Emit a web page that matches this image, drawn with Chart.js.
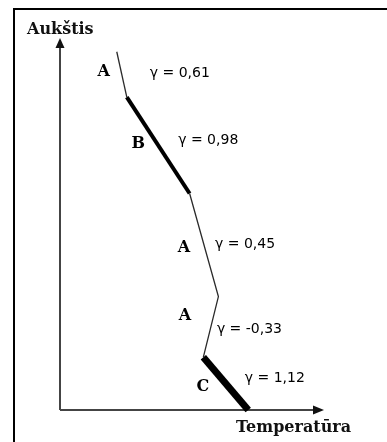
<!DOCTYPE html>
<html lang="lt">
<head>
    <meta charset="UTF-8">
    <title>Temperatūros profilis</title>
    <style>
        html, body { margin: 0; padding: 0; background: #fff; }
        canvas { display: block; }
    </style>
</head>
<body>
    <canvas id="profilis" width="387" height="442"></canvas>
    <script src="https://cdn.jsdelivr.net/npm/chart.js@4"></script>
    <script>
        // Profilio lūžio taškai (santykiniai vienetai)
        const temperatura = [21.5, 25.3, 49.1, 60.0, 54.3, 71.3];
        const aukstis = [96.3, 84.1, 58.2, 30.5, 14.2, 0];
        // Sluoksniai tarp taškų ir jų gradientai
        const sluoksniai = ['A', 'B', 'A', 'A', 'C'];
        const gradientai = [0.61, 0.98, 0.45, -0.33, 1.12];

        // linijos storis pagal sluoksnio tipą
        const storis = { A: 1.3, B: 4, C: 7 };
        const spalva = { A: '#2a2a2a', B: '#000', C: '#000' };

        // užrašų poslinkiai nuo atkarpos vidurio
        const raidesPoslinkis = [[-18, -3], [-20, -1], [-20, 3], [-26, -11], [-23, 3]];
        const gamaPoslinkis = [[28, -1], [20, -5], [11, -1], [6, 3], [19, -5]];

        const taskai = temperatura.map((t, i) => ({ x: t, y: aukstis[i] }));

        const remelis = {
            id: 'remelis',
            beforeDraw(chart) {
                const c = chart.ctx;
                c.save();
                c.fillStyle = '#fff';
                c.fillRect(0, 0, chart.width, chart.height);
                c.fillStyle = '#000';
                c.fillRect(13, 8, chart.width - 13, 2);
                c.fillRect(13, 8, 2, chart.height - 8);
                c.restore();
            }
        };

        const asys = {
            id: 'asys',
            beforeDatasetsDraw(chart) {
                const c = chart.ctx;
                const a = chart.chartArea;
                c.save();
                c.strokeStyle = '#444';
                c.fillStyle = '#111';
                c.lineWidth = 2;
                c.beginPath();
                c.moveTo(a.left, a.bottom);
                c.lineTo(a.left, a.top + 9);
                c.moveTo(a.left, a.bottom);
                c.lineTo(a.right - 10, a.bottom);
                c.stroke();
                // rodyklės
                c.beginPath();
                c.moveTo(a.left, a.top);
                c.lineTo(a.left - 4.5, a.top + 10);
                c.lineTo(a.left + 4.5, a.top + 10);
                c.closePath();
                c.fill();
                c.beginPath();
                c.moveTo(a.right, a.bottom);
                c.lineTo(a.right - 11, a.bottom - 4.5);
                c.lineTo(a.right - 11, a.bottom + 4.5);
                c.closePath();
                c.fill();

                c.font = 'bold 16px "DejaVu Serif"';
                c.textAlign = 'left';
                c.textBaseline = 'alphabetic';
                c.fillText('Aukštis', 27, 34);
                c.fillText('Temperatūra', 236, 432);
                c.restore();
            }
        };

        const uzrasai = {
            id: 'uzrasai',
            afterDatasetsDraw(chart) {
                const c = chart.ctx;
                const sx = chart.scales.x, sy = chart.scales.y;
                c.save();
                c.fillStyle = '#000';
                sluoksniai.forEach((s, i) => {
                    const mx = (sx.getPixelForValue(temperatura[i]) + sx.getPixelForValue(temperatura[i + 1])) / 2;
                    const my = (sy.getPixelForValue(aukstis[i]) + sy.getPixelForValue(aukstis[i + 1])) / 2;
                    c.font = 'bold 16px "DejaVu Serif"';
                    c.textAlign = 'center';
                    c.textBaseline = 'middle';
                    c.fillText(s, mx + raidesPoslinkis[i][0], my + raidesPoslinkis[i][1]);
                    c.font = '14px "DejaVu Sans"';
                    c.textAlign = 'left';
                    c.fillText('γ = ' + gradientai[i].toFixed(2).replace('.', ','),
                        mx + gamaPoslinkis[i][0], my + gamaPoslinkis[i][1]);
                });
                c.restore();
            }
        };

        new Chart(document.getElementById('profilis'), {
            type: 'line',
            data: {
                datasets: [{
                    data: taskai,
                    borderColor: '#000',
                    borderWidth: 1.3,
                    pointRadius: 0,
                    clip: false,
                    borderCapStyle: 'butt',
                    segment: {
                        borderWidth: ctx => storis[sluoksniai[ctx.p0DataIndex]],
                        borderColor: ctx => spalva[sluoksniai[ctx.p0DataIndex]]
                    }
                }]
            },
            options: {
                responsive: false,
                animation: false,
                devicePixelRatio: 1,
                layout: { padding: { left: 60, right: 63, top: 38, bottom: 32 } },
                scales: {
                    x: { type: 'linear', min: 0, max: 100, display: false },
                    y: { type: 'linear', min: 0, max: 100, display: false }
                },
                plugins: {
                    legend: { display: false },
                    tooltip: { enabled: false }
                }
            },
            plugins: [remelis, asys, uzrasai]
        });
    </script>
</body>
</html>
